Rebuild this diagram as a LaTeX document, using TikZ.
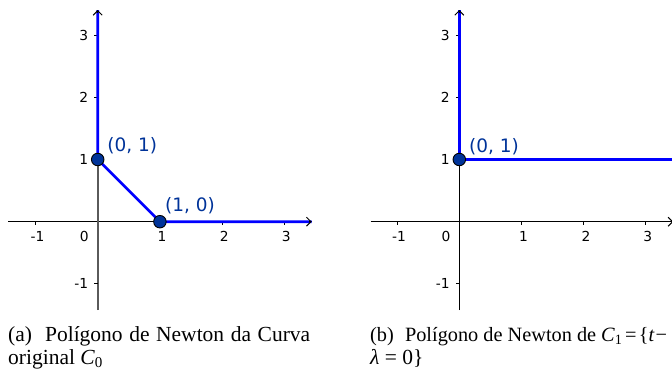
\documentclass[tikz,border=0pt]{standalone}
\usepackage{fontspec}
\setmainfont{Liberation Serif}
\newfontfamily\ggb{DejaVu Sans}
\usetikzlibrary{arrows.meta}
\definecolor{ptblue}{RGB}{0,51,153}
\definecolor{polyblue}{RGB}{0,0,255}
\definecolor{axgray}{RGB}{90,90,90}
\begin{document}
\begin{tikzpicture}[x=1pt,y=-1pt,
  axisline/.style={line width=1pt, black},
  grayaxis/.style={line width=1.7pt, axgray},
  tickmark/.style={line width=0.9pt, black},
  poly/.style={line width=2.6pt, polyblue},
  axtip/.style={line width=1pt, black, -{Straight Barb[length=4.5pt,width=9pt,line width=1pt]}},
  dot/.style={circle, fill=ptblue, draw=black, line width=0.9pt, minimum size=12.5pt, inner sep=0pt},
  ticklbl/.style={font=\ggb\fontsize{13.8}{16}\selectfont, inner sep=0pt},
  ptlbl/.style={font=\ggb\fontsize{18.5}{21}\selectfont, text=ptblue, inner sep=0pt, anchor=base west},
  caption/.style={font=\fontsize{21.5}{25}\selectfont, inner sep=0pt, anchor=base west}]
\useasboundingbox (0,0) rectangle (672,370);

% ---------- left panel ----------
\coordinate (Xs1) at (8.3,221.7);
\coordinate (Xe1) at (311.7,221.7);
\coordinate (Xa1) at (308.7,221.7);
\coordinate (Ys1) at (97.7,310);
\coordinate (Ye1) at (97.7,10);
\coordinate (Ya1) at (97.7,13);
\coordinate (A1) at (97.7,159.5);
\coordinate (B1) at (159.9,221.7);

\draw[axisline] (Xs1) -- (Xe1);
\draw[grayaxis] (Ys1) -- (A1);
\foreach \x in {35.5,159.9,222.1,284.3} \draw[tickmark] (\x,221.7) -- (\x,225.2);
\foreach \y in {35.1,97.3,159.5,283.9} \draw[tickmark] (94.2,\y) -- (97.7,\y);

\foreach \x/\t in {37.5/-1,162/1,224.3/2,286.2/3}
  \node[ticklbl, anchor=base] at (\x,241.5) {\t};
\node[ticklbl, anchor=base] (zero1) at (84.3,241.5) {0};
\foreach \y/\t in {35.1/3,97.3/2,159.5/1,283.9/-1}
  \node[ticklbl, anchor=base east] at (88.3,\y+5) {\t};

\draw[poly] (Ye1) -- (A1) -- (B1) -- (Xe1);
\draw[axtip] (Xa1) -- (Xe1);
\draw[axtip] (Ya1) -- (Ye1);

\node[dot] (P01a) at (A1) {};
\node[dot] (P10a) at (B1) {};
\node[ptlbl] (L01a) at (107.2,151.5) {(0, 1)};
\node[ptlbl] (L10a) at (165,211) {(1, 0)};

\node[caption] (capa1) at (8,341) {\makebox[302pt][s]{(a)\hspace{0.3em} Polígono de Newton da Curva}};
\node[caption] (capa2) at (8,364.5) {original \textit{C}\textsubscript{0}};

% ---------- right panel ----------
\coordinate (Xs2) at (370.7,221.7);
\coordinate (Xe2) at (673.3,221.7);
\coordinate (Xa2) at (670.3,221.7);
\coordinate (Ys2) at (459.3,310);
\coordinate (Ye2) at (459.3,10);
\coordinate (Ya2) at (459.3,13);
\coordinate (A2) at (459.3,159.5);
\coordinate (E2) at (680,159.5);

\draw[axisline] (Xs2) -- (Xe2);
\draw[axisline] (Ys2) -- (A2);
\foreach \x in {397.1,521.5,583.7,645.9} \draw[tickmark] (\x,221.7) -- (\x,225.2);
\foreach \y in {35.1,97.3,159.5,283.9} \draw[tickmark] (455.8,\y) -- (459.3,\y);

\foreach \x/\t in {399.1/-1,523.6/1,585.9/2,647.8/3}
  \node[ticklbl, anchor=base] at (\x,241.5) {\t};
\node[ticklbl, anchor=base] (zero2) at (445.9,241.5) {0};
\foreach \y/\t in {35.1/3,97.3/2,159.5/1,283.9/-1}
  \node[ticklbl, anchor=base east] at (449.9,\y+5) {\t};

\draw[poly] (Ye2) -- (A2) -- (E2);
\draw[axtip] (Xa2) -- (Xe2);
\draw[axtip] (Ya2) -- (Ye2);

\node[dot] (P01b) at (A2) {};
\node[ptlbl] (L01b) at (469,152) {(0, 1)};

\node[caption, font=\fontsize{20.3}{25}\selectfont] (capb1) at (370,341) {(b)\hspace{0.3em} Polígono de Newton de \textit{C}\textsubscript{1}\hspace{0.12em}=\hspace{0.12em}\{\textit{t}\hspace{0.05em}−};
\node[caption] (capb2) at (370,364.5) {\textit{λ} = 0\}};
\end{tikzpicture}
\end{document}
